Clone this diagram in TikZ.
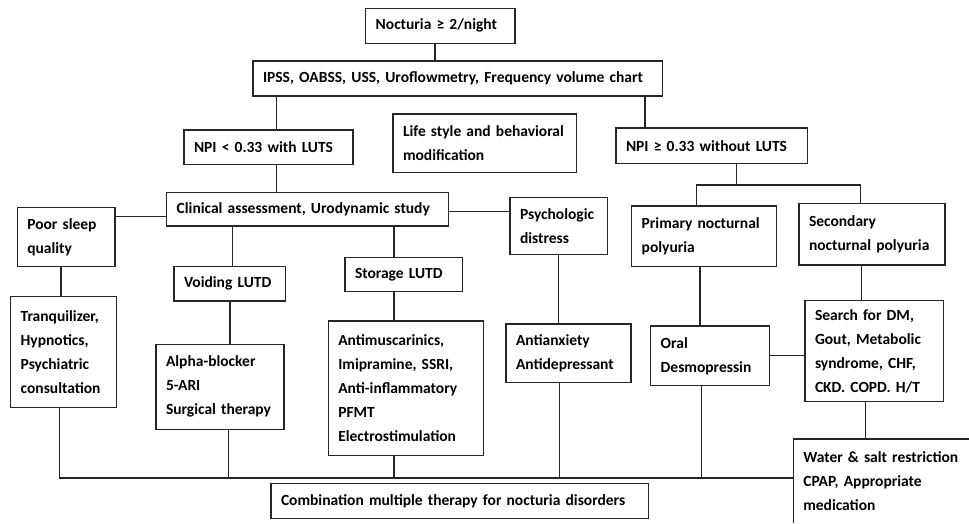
\documentclass[tikz,border=0pt]{standalone}
\usepackage{fontspec}
\setmainfont{Carlito}
\tikzset{
  box/.style={draw=black!85, line width=1.3pt, inner xsep=10pt, inner ysep=0pt, align=left,
    font=\fontsize{15.5}{24}\selectfont\bfseries, anchor=north west, outer sep=0pt},
  conn/.style={draw=black!85, line width=1.3pt}
}
\newcommand\bx[6]{%
  \pgfmathsetmacro\bw{#4-#2}\pgfmathsetmacro\bh{#5-#3}\pgfmathsetmacro\tw{#4-#2-20}%
  \node[box, minimum width=\bw pt, minimum height=\bh pt, text width=\tw pt] (#1) at (#2,#3) {#6};}
\begin{document}
\begin{tikzpicture}[x=1pt,y=-1pt]
\useasboundingbox (0,0) rectangle (969,523);
\bx{noct}{365.7}{8.3}{515}{43.3}{Nocturia ≥ 2/night}
\bx{ipss}{253}{61}{662.7}{96}{IPSS, OABSS, USS, Uroflowmetry, Frequency volume chart}
\bx{npil}{184}{130}{353}{164.7}{NPI < 0.33 with LUTS}
\bx{life}{393}{114}{576.7}{172.7}{Life style and behavioral\\modification}
\bx{npig}{616}{128}{807.3}{163.3}{NPI ≥ 0.33 without LUTS}
\bx{clin}{166.7}{192.3}{448.3}{226}{Clinical assessment, Urodynamic study}
\bx{sleep}{17.3}{207.7}{115}{266.7}{Poor sleep\\quality}
\bx{psych}{510}{197.7}{607.3}{254.3}{Psychologic\\distress}
\bx{prim}{631.7}{206}{776.7}{266.7}{Primary nocturnal\\polyuria}
\bx{sec}{799}{203.3}{945}{265}{Secondary\\nocturnal polyuria}
\bx{void}{174}{266.7}{285.7}{301}{Voiding LUTD}
\bx{stor}{345}{257.3}{462.3}{291.7}{Storage LUTD}
\bx{tranq}{10.7}{296.7}{116.7}{407.7}{Tranquilizer,\\Hypnotics,\\Psychiatric\\consultation}
\bx{alpha}{156}{344.3}{284}{429.3}{Alpha-blocker\\5-ARI\\Surgical therapy}
\bx{anti}{328.3}{321}{483.3}{455.7}{Antimuscarinics,\\Imipramine, SSRI,\\Anti-inflammatory\\PFMT\\Electrostimulation}
\bx{anx}{506}{324}{631}{382.3}{Antianxiety\\Antidepressant}
\bx{oral}{650.7}{326}{769.3}{385.7}{Oral\\Desmopressin}
\bx{search}{805}{300.7}{943.3}{401.7}{Search for DM,\\Gout, Metabolic\\syndrome, CHF,\\CKD. COPD. H/T}
\bx{comb}{271}{483.3}{648.3}{518.3}{Combination multiple therapy for nocturia disorders}
\node[box, draw=none, minimum width=175.7pt, minimum height=84pt, text width=155.7pt] (water) at (793.3,439)
  {Water \& salt restriction\\CPAP, Appropriate\\medication};
\draw[conn] (water.south west) |- (water.north east);
% x positions
\coordinate (x1) at (435,0);
\coordinate (x2) at (276.7,0);
\coordinate (x3) at (645,0);
\coordinate (x4) at (736.7,0);
\coordinate (xp) at (696.7,0);
\coordinate (xs) at (860.7,0);
\coordinate (jy) at (0,185);
\coordinate (ys) at (0,216.7);
\coordinate (yp) at (0,211.5);
\coordinate (xv) at (232.7,0);
\coordinate (xst) at (394,0);
\coordinate (xt) at (61,0);
\coordinate (xa) at (230,0);
\coordinate (xx) at (558.3,0);
\coordinate (xo) at (700,0);
\coordinate (xse) at (861.7,0);
\coordinate (yo) at (0,355.7);
\coordinate (xw) at (865.7,0);
\coordinate (bus) at (0,478);
\coordinate (b1) at (59.3,0);
\coordinate (b2) at (228.3,0);
\coordinate (b3) at (394,0);
\coordinate (b4) at (559.3,0);
\coordinate (b5) at (701.7,0);
% connectors
\draw[conn] (noct.south -| x1) -- (ipss.north -| x1);
\draw[conn] (ipss.south -| x2) -- (npil.north -| x2);
\draw[conn] (npil.south -| x2) -- (clin.north -| x2);
\draw[conn] (ipss.south -| x3) -- (npig.north -| x3);
\draw[conn] (npig.south -| x4) -- (jy -| x4);
\draw[conn] (prim.north -| xp) |- (jy -| xs) -- (sec.north -| xs);
\draw[conn] (sleep.east |- ys) -- (clin.west |- ys);
\draw[conn] (clin.east |- yp) -- (psych.west |- yp);
\draw[conn] (clin.south -| xv) -- (void.north -| xv);
\draw[conn] (clin.south -| xst) -- (stor.north -| xst);
\draw[conn] (sleep.south -| xt) -- (tranq.north -| xt);
\draw[conn] (void.south -| xa) -- (alpha.north -| xa);
\draw[conn] (stor.south -| xst) -- (anti.north -| xst);
\draw[conn] (psych.south -| xx) -- (anx.north -| xx);
\draw[conn] (prim.south -| xo) -- (oral.north -| xo);
\draw[conn] (sec.south -| xse) -- (search.north -| xse);
\draw[conn] (oral.east |- yo) -- (search.west |- yo);
\draw[conn] (search.south -| xw) -- (water.north -| xw);
\draw[conn] (tranq.south -| b1) |- (bus -| water.west);
\draw[conn] (alpha.south -| b2) -- (bus -| b2);
\draw[conn] (anti.south -| b3) -- (bus -| b3);
\draw[conn] (anx.south -| b4) -- (bus -| b4);
\draw[conn] (oral.south -| b5) -- (bus -| b5);
\end{tikzpicture}
\end{document}
